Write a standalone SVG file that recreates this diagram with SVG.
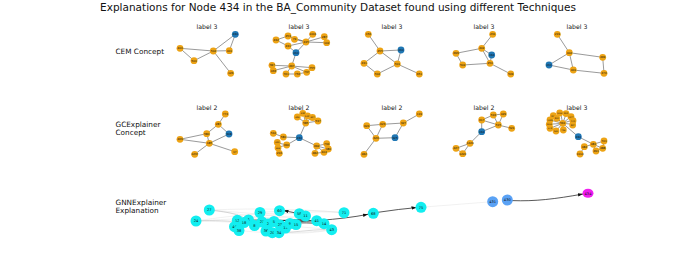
<svg xmlns="http://www.w3.org/2000/svg" width="675" height="270" viewBox="0 0 675 270">
<style>
text{font-family:"DejaVu Sans","Liberation Sans",sans-serif;fill:#111}
.title{font-size:10.5px;text-anchor:middle}
.rl{font-size:7.3px}
.ct{font-size:6.2px;text-anchor:middle}
.o{fill:#eda314}
.b{fill:#1f77b4}
.c{fill:#12eef0}
.lb{fill:#5aa2f5}
.m{fill:#f01ef0}
.t{font-size:2.8px;text-anchor:middle}
.ts{font-size:2.1px;text-anchor:middle}
.t3{font-size:3.6px;text-anchor:middle}
.e{stroke:#555;stroke-width:0.6;fill:none}
.f{stroke:#e2e2e2;stroke-width:0.5;fill:none}
.g{stroke:#b5b5b5;stroke-width:0.5;fill:none}
.d{stroke:#111;stroke-width:0.7;fill:none}
</style>
<defs>
<marker id="ah" viewBox="0 0 6 4" refX="6" refY="2" markerWidth="5" markerHeight="3.5" markerUnits="userSpaceOnUse" orient="auto">
<path d="M0,0 L6,2 L0,4 z" fill="#111"/>
</marker>
</defs>
<rect width="675" height="270" fill="#fff"/>
<text class="title" x="338" y="11">Explanations for Node 434 in the BA_Community Dataset found using different Techniques</text>
<g id="row-labels">
<text class="rl" x="115.5" y="54">CEM Concept</text>
<text class="rl" x="115.5" y="126.5">GCExplainer</text>
<text class="rl" x="115.5" y="134.5">Concept</text>
<text class="rl" x="115.5" y="204.5">GNNExplainer</text>
<text class="rl" x="115.5" y="212.5">Explanation</text>
</g>
<g id="panel-titles">
<text class="ct" x="207" y="29">label 3</text>
<text class="ct" x="299" y="29">label 3</text>
<text class="ct" x="392" y="29">label 3</text>
<text class="ct" x="484" y="29">label 3</text>
<text class="ct" x="577" y="29">label 3</text>
<text class="ct" x="207" y="110">label 2</text>
<text class="ct" x="299" y="110">label 2</text>
<text class="ct" x="392" y="110">label 2</text>
<text class="ct" x="484" y="110">label 2</text>
<text class="ct" x="577" y="110">label 3</text>
</g>
<g id="connectors">
<!-- panel 1-1 -->
<path class="e" d="M180,48.3L213.3,51M180,48.3L194,60.7M194,60.7L213.3,51M213.3,51L235.3,34.3M213.3,51L229.3,50.7M229.3,50.7L235.3,34.3M213.3,51L230.7,73.3"/>
<!-- panel 1-2 -->
<path class="e" d="M276,40L288,36M276,40L288,46M288,36L294.5,39.3M294.5,39.3L306,42M288,36L306,42M288,46L306,42M306,42L296,52.7M288,46L296,52.7M306,42L312.7,34.3M306,42L324.3,36.7M306,42L326.7,42.7M324.3,36.7L326.7,42.7M296,52.7L291.7,66M291.7,66L272,65.3M291.7,66L273.3,70.7M291.7,66L286,74M291.7,66L312,67.7M286,74L297.3,74M297.3,74L306.7,72.3M306.7,72.3L312,67.7M291.7,66L306.7,72.3"/>
<!-- panel 1-3 -->
<path class="e" d="M368.3,34.3L380,51M380,51L401,50M380,51L364,63.3M364,63.3L377.3,74M377.3,74L397.3,64M380,51L397.3,64M401,50L397.3,64M397.3,64L419.3,74"/>
<!-- panel 1-4 -->
<path class="e" d="M492.7,34.3L481.7,48.3M481.7,48.3L456,53.3M481.7,48.3L491.7,55M481.7,48.3L490,63.3M456,53.3L462.7,65M462.7,65L490,63.3M491.7,55L490,63.3M490,63.3L510.7,74"/>
<!-- panel 1-5 -->
<path class="e" d="M557.3,34.3L569.3,52.7M569.3,52.7L549,65M569.3,52.7L573.3,70M549,65L573.3,70M569.3,52.7L602.7,57.3M602.7,57.3L604,73.3M573.3,70L604,73.3"/>
<!-- panel 2-1 -->
<path class="e" d="M225.3,114L218.3,124.3M218.3,124.3L206.7,133.7M218.3,124.3L229,134M206.7,133.7L180,139.3M180,139.3L209.3,143.3M206.7,133.7L209.3,143.3M209.3,143.3L229,134M209.3,143.3L194.7,154.3M209.3,143.3L234.7,151.7"/>
<!-- panel 2-2 -->
<path class="e" d="M299.3,137.7L305.7,123M305.7,123L297.3,117M305.7,123L303.3,113.5M305.7,123L307.5,115.5M305.7,123L312,117M305.7,123L318,121M297.3,117L303.3,113.5M303.3,113.5L312,117M299.3,137.7L283.3,137M283.3,137L273.3,133.3M299.3,137.7L286.7,145M286.7,145L277.3,142.7M286.7,145L278,147.3M278,147.3L279.3,153.3M299.3,137.7L316.7,146M316.7,146L326.7,143.7M316.7,146L328.3,149M316.7,146L315,153.3M316.7,146L324,152.3M315,153.3L324,152.3M326.7,143.7L328.3,149"/>
<!-- panel 2-3 -->
<path class="e" d="M419.3,114L403.3,123M403.3,123L382.7,124.3M403.3,123L395,137.7M382.7,124.3L366.7,125.7M366.7,125.7L376,138.3M382.7,124.3L376,138.3M376,138.3L395,137.7M376,138.3L364,154.3"/>
<!-- panel 2-4 -->
<path class="e" d="M493.3,115L503.3,114M493.3,115L481.7,120M493.3,115L498.3,125M503.3,114L498.3,125M481.7,120L498.3,125M498.3,125L511.7,128.3M481.7,120L481.7,131.7M498.3,125L481.7,131.7M481.7,131.7L470,143.3M470,143.3L456,148.3M470,143.3L462.7,153.7M456,148.3L462.7,153.7"/>
<!-- panel 2-5 -->
<path class="e" d="M578.3,136.7L562.7,123.3M562.7,123.3L553.3,115.7M562.7,123.3L560.7,113.3M562.7,123.3L566,114.5M562.7,123.3L570.7,116.7M562.7,123.3L572.7,120M562.7,123.3L572.7,124.3M562.7,123.3L563.3,130M562.7,123.3L556,131M562.7,123.3L550,128.3M562.7,123.3L549.3,124.3M562.7,123.3L550,120M562.7,123.3L556.7,118.3M578.3,136.7L593.3,144.3M593.3,144.3L604,141M593.3,144.3L602.7,148.3M593.3,144.3L596,151M593.3,144.3L584.3,146.7M584.3,146.7L580,154M602.7,148.3L596,151M604,141L602.7,148.3"/>
<!-- row 3 faint edges -->
<path class="f" d="M209.3,210C260,208 300,209 344,212.7M209.3,210C250,213 290,217 316.7,220.7M196,221C240,214 280,212 299.3,213.7M196,221C250,222 290,226 331.7,229.7M196,221C240,218 280,218 305.5,216M209.3,210C240,214 270,220 324,223.7M239,230.5C270,234 310,233 331.7,229.7M266,231C290,235 315,233 331.7,229.7M237.3,220.3C270,214 310,210 344,212.7M421,207.3C450,205 475,203 492.7,201.7M260,212.5C290,210 320,210 344,212.7"/>
<path class="g" d="M209.3,210C230,212 245,215 254.5,225.5M196,221C215,220 230,221 244,222.5M279,232.7C300,232 315,229 331.7,229.7"/>
<!-- row 3 dark edges -->
<path class="d" d="M248.5,220L316.7,220.7M254.5,225.5C280,223 300,222 324,223.7M262,222L306,219" />
<path class="d" d="M299.3,213.7L283.5,210.5" marker-end="url(#ah)"/>
<path class="d" d="M268,223C300,222 340,220 368,214.3" marker-end="url(#ah)"/>
<path class="d" d="M378,212.3Q400,209 416.5,207.6" marker-end="url(#ah)"/>
<path class="d" d="M512,200.6C535,201.5 555,199 583,194" marker-end="url(#ah)"/>
</g>
<!-- ===== Row 1 nodes ===== -->
<g id="p11-434"><circle class="b" cx="235.3" cy="34.3" r="3.4"/><text class="t" x="235.3" y="35.3">434</text></g>
<g id="p11-400"><circle class="o" cx="180" cy="48.3" r="3.4"/><text class="t" x="180" y="49.3">400</text></g>
<g id="p11-502"><circle class="o" cx="213.3" cy="51" r="3.4"/><text class="t" x="213.3" y="52">502</text></g>
<g id="p11-401"><circle class="o" cx="229.3" cy="50.7" r="3.4"/><text class="t" x="229.3" y="51.7">401</text></g>
<g id="p11-500"><circle class="o" cx="194" cy="60.7" r="3.4"/><text class="t" x="194" y="61.7">500</text></g>
<g id="p11-126"><circle class="o" cx="230.7" cy="73.3" r="3.4"/><text class="t" x="230.7" y="74.3">126</text></g>

<g id="p12-434"><circle class="b" cx="296" cy="52.7" r="3.4"/><text class="t" x="296" y="53.7">434</text></g>
<g id="p12-453"><circle class="o" cx="288" cy="36" r="3.4"/><text class="t" x="288" y="37">453</text></g>
<g id="p12-432"><circle class="o" cx="276" cy="40" r="3.4"/><text class="t" x="276" y="41">432</text></g>
<g id="p12-431"><circle class="o" cx="288" cy="46" r="3.4"/><text class="t" x="288" y="47">431</text></g>
<g id="p12-79"><circle class="o" cx="294.5" cy="39.3" r="3.4"/><text class="t" x="294.5" y="40.3">79</text></g>
<g id="p12-435"><circle class="o" cx="306" cy="42" r="3.4"/><text class="t" x="306" y="43">435</text></g>
<g id="p12-1004"><circle class="o" cx="312.7" cy="34.3" r="3.4"/><text class="t" x="312.7" y="35.3">1004</text></g>
<g id="p12-287"><circle class="o" cx="324.3" cy="36.7" r="3.4"/><text class="t" x="324.3" y="37.7">287</text></g>
<g id="p12-102"><circle class="o" cx="326.7" cy="42.7" r="3.4"/><text class="t" x="326.7" y="43.7">102</text></g>
<g id="p12-497"><circle class="o" cx="291.7" cy="66" r="3.4"/><text class="t" x="291.7" y="67">497</text></g>
<g id="p12-787"><circle class="o" cx="272" cy="65.3" r="3.4"/><text class="t" x="272" y="66.3">787</text></g>
<g id="p12-433"><circle class="o" cx="273.3" cy="70.7" r="3.4"/><text class="t" x="273.3" y="71.7">433</text></g>
<g id="p12-761"><circle class="o" cx="286" cy="74" r="3.4"/><text class="t" x="286" y="75">761</text></g>
<g id="p12-756"><circle class="o" cx="297.3" cy="74" r="3.4"/><text class="t" x="297.3" y="75">756</text></g>
<g id="p12-737"><circle class="o" cx="306.7" cy="72.3" r="3.4"/><text class="t" x="306.7" y="73.3">737</text></g>
<g id="p12-755"><circle class="o" cx="312" cy="67.7" r="3.4"/><text class="t" x="312" y="68.7">755</text></g>

<g id="p13-156"><circle class="o" cx="368.3" cy="34.3" r="3.4"/><text class="t" x="368.3" y="35.3">156</text></g>
<g id="p13-434"><circle class="b" cx="401" cy="50" r="3.4"/><text class="t" x="401" y="51">434</text></g>
<g id="p13-455"><circle class="o" cx="380" cy="51" r="3.4"/><text class="t" x="380" y="52">455</text></g>
<g id="p13-431"><circle class="o" cx="364" cy="63.3" r="3.4"/><text class="t" x="364" y="64.3">431</text></g>
<g id="p13-502"><circle class="o" cx="377.3" cy="74" r="3.4"/><text class="t" x="377.3" y="75">502</text></g>
<g id="p13-501"><circle class="o" cx="397.3" cy="64" r="3.4"/><text class="t" x="397.3" y="65">501</text></g>
<g id="p13-651"><circle class="o" cx="419.3" cy="74" r="3.4"/><text class="t" x="419.3" y="75">651</text></g>

<g id="p14-231"><circle class="o" cx="492.7" cy="34.3" r="3.4"/><text class="t" x="492.7" y="35.3">231</text></g>
<g id="p14-402"><circle class="o" cx="481.7" cy="48.3" r="3.4"/><text class="t" x="481.7" y="49.3">402</text></g>
<g id="p14-434"><circle class="b" cx="491.7" cy="55" r="3.4"/><text class="t" x="491.7" y="56">434</text></g>
<g id="p14-699"><circle class="o" cx="456" cy="53.3" r="3.4"/><text class="t" x="456" y="54.3">699</text></g>
<g id="p14-502"><circle class="o" cx="462.7" cy="65" r="3.4"/><text class="t" x="462.7" y="66">502</text></g>
<g id="p14-450"><circle class="o" cx="490" cy="63.3" r="3.4"/><text class="t" x="490" y="64.3">450</text></g>
<g id="p14-509"><circle class="o" cx="510.7" cy="74" r="3.4"/><text class="t" x="510.7" y="75">509</text></g>

<g id="p15-219"><circle class="o" cx="557.3" cy="34.3" r="3.4"/><text class="t" x="557.3" y="35.3">219</text></g>
<g id="p15-402"><circle class="o" cx="569.3" cy="52.7" r="3.4"/><text class="t" x="569.3" y="53.7">402</text></g>
<g id="p15-434"><circle class="b" cx="549" cy="65" r="3.4"/><text class="t" x="549" y="66">434</text></g>
<g id="p15-401"><circle class="o" cx="573.3" cy="70" r="3.4"/><text class="t" x="573.3" y="71">401</text></g>
<g id="p15-499"><circle class="o" cx="602.7" cy="57.3" r="3.4"/><text class="t" x="602.7" y="58.3">499</text></g>
<g id="p15-476"><circle class="o" cx="604" cy="73.3" r="3.4"/><text class="t" x="604" y="74.3">476</text></g>

<!-- ===== Row 2 nodes ===== -->
<g id="p21-774"><circle class="o" cx="225.3" cy="114" r="3.4"/><text class="t" x="225.3" y="115">774</text></g>
<g id="p21-287"><circle class="o" cx="218.3" cy="124.3" r="3.4"/><text class="t" x="218.3" y="125.3">287</text></g>
<g id="p21-308"><circle class="b" cx="229" cy="134" r="3.4"/><text class="t" x="229" y="135">308</text></g>
<g id="p21-580"><circle class="o" cx="206.7" cy="133.7" r="3.4"/><text class="t" x="206.7" y="134.7">580</text></g>
<g id="p21-469"><circle class="o" cx="180" cy="139.3" r="3.4"/><text class="t" x="180" y="140.3">469</text></g>
<g id="p21-185"><circle class="o" cx="209.3" cy="143.3" r="3.4"/><text class="t" x="209.3" y="144.3">185</text></g>
<g id="p21-1237"><circle class="o" cx="194.7" cy="154.3" r="3.4"/><text class="t" x="194.7" y="155.3">1237</text></g>
<g id="p21-17"><circle class="o" cx="234.7" cy="151.7" r="3.4"/><text class="t" x="234.7" y="152.7">17</text></g>

<g id="p22-434"><circle class="b" cx="299.3" cy="137.7" r="3.4"/><text class="t" x="299.3" y="138.7">434</text></g>
<g id="p22-585"><circle class="o" cx="305.7" cy="123" r="3.4"/><text class="t" x="305.7" y="124">585</text></g>
<g id="p22-537"><circle class="o" cx="318" cy="121" r="3.4"/><text class="t" x="318" y="122">537</text></g>
<g id="p22-424"><circle class="o" cx="297.3" cy="117" r="3.4"/><text class="ts" x="297.3" y="117.8">424</text></g>
<g id="p22-438"><circle class="o" cx="302.8" cy="113.3" r="3.4"/><text class="ts" x="302.8" y="114.1">438</text></g>
<g id="p22-1021"><circle class="o" cx="307.5" cy="116" r="3.4"/><text class="ts" x="307.5" y="116.8">1021</text></g>
<g id="p22-437"><circle class="o" cx="312.5" cy="117.5" r="3.4"/><text class="ts" x="312.5" y="118.3">437</text></g>
<g id="p22-542"><circle class="o" cx="273.3" cy="133.3" r="3.4"/><text class="t" x="273.3" y="134.3">542</text></g>
<g id="p22-580"><circle class="o" cx="283.3" cy="137" r="3.4"/><text class="t" x="283.3" y="138">580</text></g>
<g id="p22-690"><circle class="o" cx="286.7" cy="145" r="3.4"/><text class="t" x="286.7" y="146">690</text></g>
<g id="p22-693"><circle class="o" cx="277.3" cy="142.5" r="3.4"/><text class="ts" x="277.3" y="143.3">693</text></g>
<g id="p22-666"><circle class="o" cx="278" cy="147.8" r="3.4"/><text class="ts" x="278" y="148.6">666</text></g>
<g id="p22-216"><circle class="o" cx="279.3" cy="153.3" r="3.4"/><text class="t" x="279.3" y="154.3">216</text></g>
<g id="p22-692"><circle class="o" cx="316.7" cy="146" r="3.4"/><text class="t" x="316.7" y="147">692</text></g>
<g id="p22-734"><circle class="o" cx="326.7" cy="143.7" r="3.4"/><text class="t" x="326.7" y="144.7">734</text></g>
<g id="p22-480"><circle class="o" cx="328.3" cy="149" r="3.4"/><text class="t" x="328.3" y="150">480</text></g>
<g id="p22-482"><circle class="o" cx="315" cy="153.3" r="3.4"/><text class="t" x="315" y="154.3">482</text></g>
<g id="p22-404"><circle class="o" cx="324" cy="152.3" r="3.4"/><text class="t" x="324" y="153.3">404</text></g>

<g id="p23-119"><circle class="o" cx="419.3" cy="114" r="3.4"/><text class="t" x="419.3" y="115">119</text></g>
<g id="p23-327"><circle class="o" cx="403.3" cy="123" r="3.4"/><text class="t" x="403.3" y="124">327</text></g>
<g id="p23-623"><circle class="o" cx="382.7" cy="124.3" r="3.4"/><text class="t" x="382.7" y="125.3">623</text></g>
<g id="p23-624"><circle class="o" cx="366.7" cy="125.7" r="3.4"/><text class="t" x="366.7" y="126.7">624</text></g>
<g id="p23-626"><circle class="o" cx="376" cy="138.3" r="3.4"/><text class="t" x="376" y="139.3">626</text></g>
<g id="p23-325"><circle class="b" cx="395" cy="137.7" r="3.4"/><text class="t" x="395" y="138.7">325</text></g>
<g id="p23-182"><circle class="o" cx="364" cy="154.3" r="3.4"/><text class="t" x="364" y="155.3">182</text></g>

<g id="p24-516"><circle class="o" cx="493.3" cy="115" r="3.4"/><text class="t" x="493.3" y="116">516</text></g>
<g id="p24-429"><circle class="o" cx="503.3" cy="114" r="3.4"/><text class="t" x="503.3" y="115">429</text></g>
<g id="p24-617"><circle class="o" cx="481.7" cy="120" r="3.4"/><text class="t" x="481.7" y="121">617</text></g>
<g id="p24-515"><circle class="o" cx="498.3" cy="125" r="3.4"/><text class="t" x="498.3" y="126">515</text></g>
<g id="p24-521"><circle class="o" cx="511.7" cy="128.3" r="3.4"/><text class="t" x="511.7" y="129.3">521</text></g>
<g id="p24-434"><circle class="b" cx="481.7" cy="131.7" r="3.4"/><text class="t" x="481.7" y="132.7">434</text></g>
<g id="p24-1224"><circle class="o" cx="470" cy="143.3" r="3.4"/><text class="t" x="470" y="144.3">1224</text></g>
<g id="p24-227"><circle class="o" cx="456" cy="148.3" r="3.4"/><text class="t" x="456" y="149.3">227</text></g>
<g id="p24-1220"><circle class="o" cx="462.7" cy="153.7" r="3.4"/><text class="t" x="462.7" y="154.7">1220</text></g>

<g id="p25-c01"><circle class="o" cx="553.3" cy="115.7" r="3.4"/><text class="ts" x="553.3" y="116.5">811</text></g>
<g id="p25-c02"><circle class="o" cx="559.7" cy="113" r="3.4"/><text class="ts" x="559.7" y="113.8">1004</text></g>
<g id="p25-c03"><circle class="o" cx="566" cy="113.6" r="3.4"/><text class="ts" x="566" y="114.4">803</text></g>
<g id="p25-c04"><circle class="o" cx="571" cy="116.7" r="3.4"/><text class="ts" x="571" y="117.5">1132</text></g>
<g id="p25-c05"><circle class="o" cx="573" cy="120.7" r="3.4"/><text class="ts" x="573" y="121.5">543</text></g>
<g id="p25-c06"><circle class="o" cx="572.7" cy="125" r="3.4"/><text class="ts" x="572.7" y="125.8">837</text></g>
<g id="p25-c07"><circle class="o" cx="563.3" cy="130" r="3.4"/><text class="ts" x="563.3" y="130.8">736</text></g>
<g id="p25-c08"><circle class="o" cx="556" cy="131" r="3.4"/><text class="ts" x="556" y="131.8">540</text></g>
<g id="p25-c09"><circle class="o" cx="550" cy="128.3" r="3.4"/><text class="ts" x="550" y="129.1">572</text></g>
<g id="p25-c10"><circle class="o" cx="549.3" cy="124.3" r="3.4"/><text class="ts" x="549.3" y="125.1">1215</text></g>
<g id="p25-c11"><circle class="o" cx="550" cy="120" r="3.4"/><text class="ts" x="550" y="120.8">1029</text></g>
<g id="p25-c12"><circle class="o" cx="556.7" cy="118.3" r="3.4"/><text class="ts" x="556.7" y="119.1">812</text></g>
<g id="p25-561"><circle class="o" cx="562.7" cy="123.3" r="3.4"/><text class="t" x="562.7" y="124.3">561</text></g>
<g id="p25-434"><circle class="b" cx="578.3" cy="136.7" r="3.4"/><text class="t" x="578.3" y="137.7">434</text></g>
<g id="p25-481"><circle class="o" cx="593.3" cy="144.3" r="3.4"/><text class="t" x="593.3" y="145.3">481</text></g>
<g id="p25-701"><circle class="o" cx="604" cy="141" r="3.4"/><text class="t" x="604" y="142">701</text></g>
<g id="p25-488"><circle class="o" cx="602.7" cy="148.3" r="3.4"/><text class="t" x="602.7" y="149.3">488</text></g>
<g id="p25-491"><circle class="o" cx="596" cy="151" r="3.4"/><text class="t" x="596" y="152">491</text></g>
<g id="p25-484"><circle class="o" cx="584.3" cy="146.7" r="3.4"/><text class="t" x="584.3" y="147.7">484</text></g>
<g id="p25-1014"><circle class="o" cx="580" cy="154" r="3.4"/><text class="t" x="580" y="155">1014</text></g>

<!-- ===== Row 3 nodes ===== -->
<g id="g-27"><circle class="c" cx="209.3" cy="210" r="5.5"/><text class="t3" x="209.3" y="211.3">27</text></g>
<g id="g-24"><circle class="c" cx="196" cy="221" r="5.5"/><text class="t3" x="196" y="222.3">24</text></g>
<g id="g-29"><circle class="c" cx="260" cy="212.5" r="5.5"/><text class="t3" x="260" y="213.8">29</text></g>
<g id="g-60"><circle class="c" cx="279.5" cy="210.7" r="5.5"/><text class="t3" x="279.5" y="212">60</text></g>
<g id="g-58"><circle class="c" cx="299.3" cy="213.7" r="5.5"/><text class="t3" x="299.3" y="215">58</text></g>
<g id="g-11"><circle class="c" cx="305.5" cy="216" r="5.5"/><text class="t3" x="305.5" y="217.3">11</text></g>
<g id="g-71"><circle class="c" cx="344" cy="212.7" r="5.5"/><text class="t3" x="344" y="214">71</text></g>
<g id="g-41"><circle class="c" cx="316.7" cy="220.7" r="5.5"/><text class="t3" x="316.7" y="222">41</text></g>
<g id="g-14"><circle class="c" cx="324" cy="223.7" r="5.5"/><text class="t3" x="324" y="225">14</text></g>
<g id="g-43"><circle class="c" cx="331.7" cy="229.7" r="5.5"/><text class="t3" x="331.7" y="231">43</text></g>
<g id="g-12"><circle class="c" cx="237.3" cy="220.3" r="5.5"/><text class="t3" x="237.3" y="221.6">12</text></g>
<g id="g-6"><circle class="c" cx="248.5" cy="220" r="5.5"/><text class="t3" x="248.5" y="221.3">6</text></g>
<g id="g-18"><circle class="c" cx="244" cy="222.5" r="5.5"/><text class="t3" x="244" y="223.8">18</text></g>
<g id="g-44"><circle class="c" cx="234.5" cy="226.7" r="5.5"/><text class="t3" x="234.5" y="228">44</text></g>
<g id="g-38"><circle class="c" cx="239" cy="230.5" r="5.5"/><text class="t3" x="239" y="231.8">38</text></g>
<g id="g-8"><circle class="c" cx="254.5" cy="225.5" r="5.5"/><text class="t3" x="254.5" y="226.8">8</text></g>
<g id="g-21"><circle class="c" cx="262" cy="222" r="5.5"/><text class="t3" x="262" y="223.3">21</text></g>
<g id="g-2"><circle class="c" cx="268" cy="224" r="5.5"/><text class="t3" x="268" y="225.3">2</text></g>
<g id="g-5"><circle class="c" cx="274" cy="221.5" r="5.5"/><text class="t3" x="274" y="222.8">5</text></g>
<g id="g-23"><circle class="c" cx="280" cy="225" r="5.5"/><text class="t3" x="280" y="226.3">23</text></g>
<g id="g-13"><circle class="c" cx="285.5" cy="228" r="5.5"/><text class="t3" x="285.5" y="229.3">13</text></g>
<g id="g-9"><circle class="c" cx="290" cy="223.5" r="5.5"/><text class="t3" x="290" y="224.8">9</text></g>
<g id="g-15"><circle class="c" cx="296" cy="224.5" r="5.5"/><text class="t3" x="296" y="225.8">15</text></g>
<g id="g-36"><circle class="c" cx="266" cy="231" r="5.5"/><text class="t3" x="266" y="232.3">36</text></g>
<g id="g-20"><circle class="c" cx="272.3" cy="232.7" r="5.5"/><text class="t3" x="272.3" y="234">20</text></g>
<g id="g-34"><circle class="c" cx="279" cy="232.7" r="5.5"/><text class="t3" x="279" y="234">34</text></g>
<g id="g-68"><circle class="c" cx="373.3" cy="213.3" r="5.5"/><text class="t3" x="373.3" y="214.6">68</text></g>
<g id="g-75"><circle class="c" cx="421" cy="207.3" r="5.5"/><text class="t3" x="421" y="208.6">75</text></g>
<g id="g-431"><circle class="lb" cx="492.7" cy="201.7" r="5.5"/><text class="t3" x="492.7" y="203">431</text></g>
<g id="g-430"><circle class="lb" cx="507.3" cy="200" r="5.5"/><text class="t3" x="507.3" y="201.3">430</text></g>
<g id="g-434"><ellipse class="m" cx="588" cy="193.3" rx="5.5" ry="4.5"/><text class="t3" x="588" y="194.6">434</text></g>
</svg>
